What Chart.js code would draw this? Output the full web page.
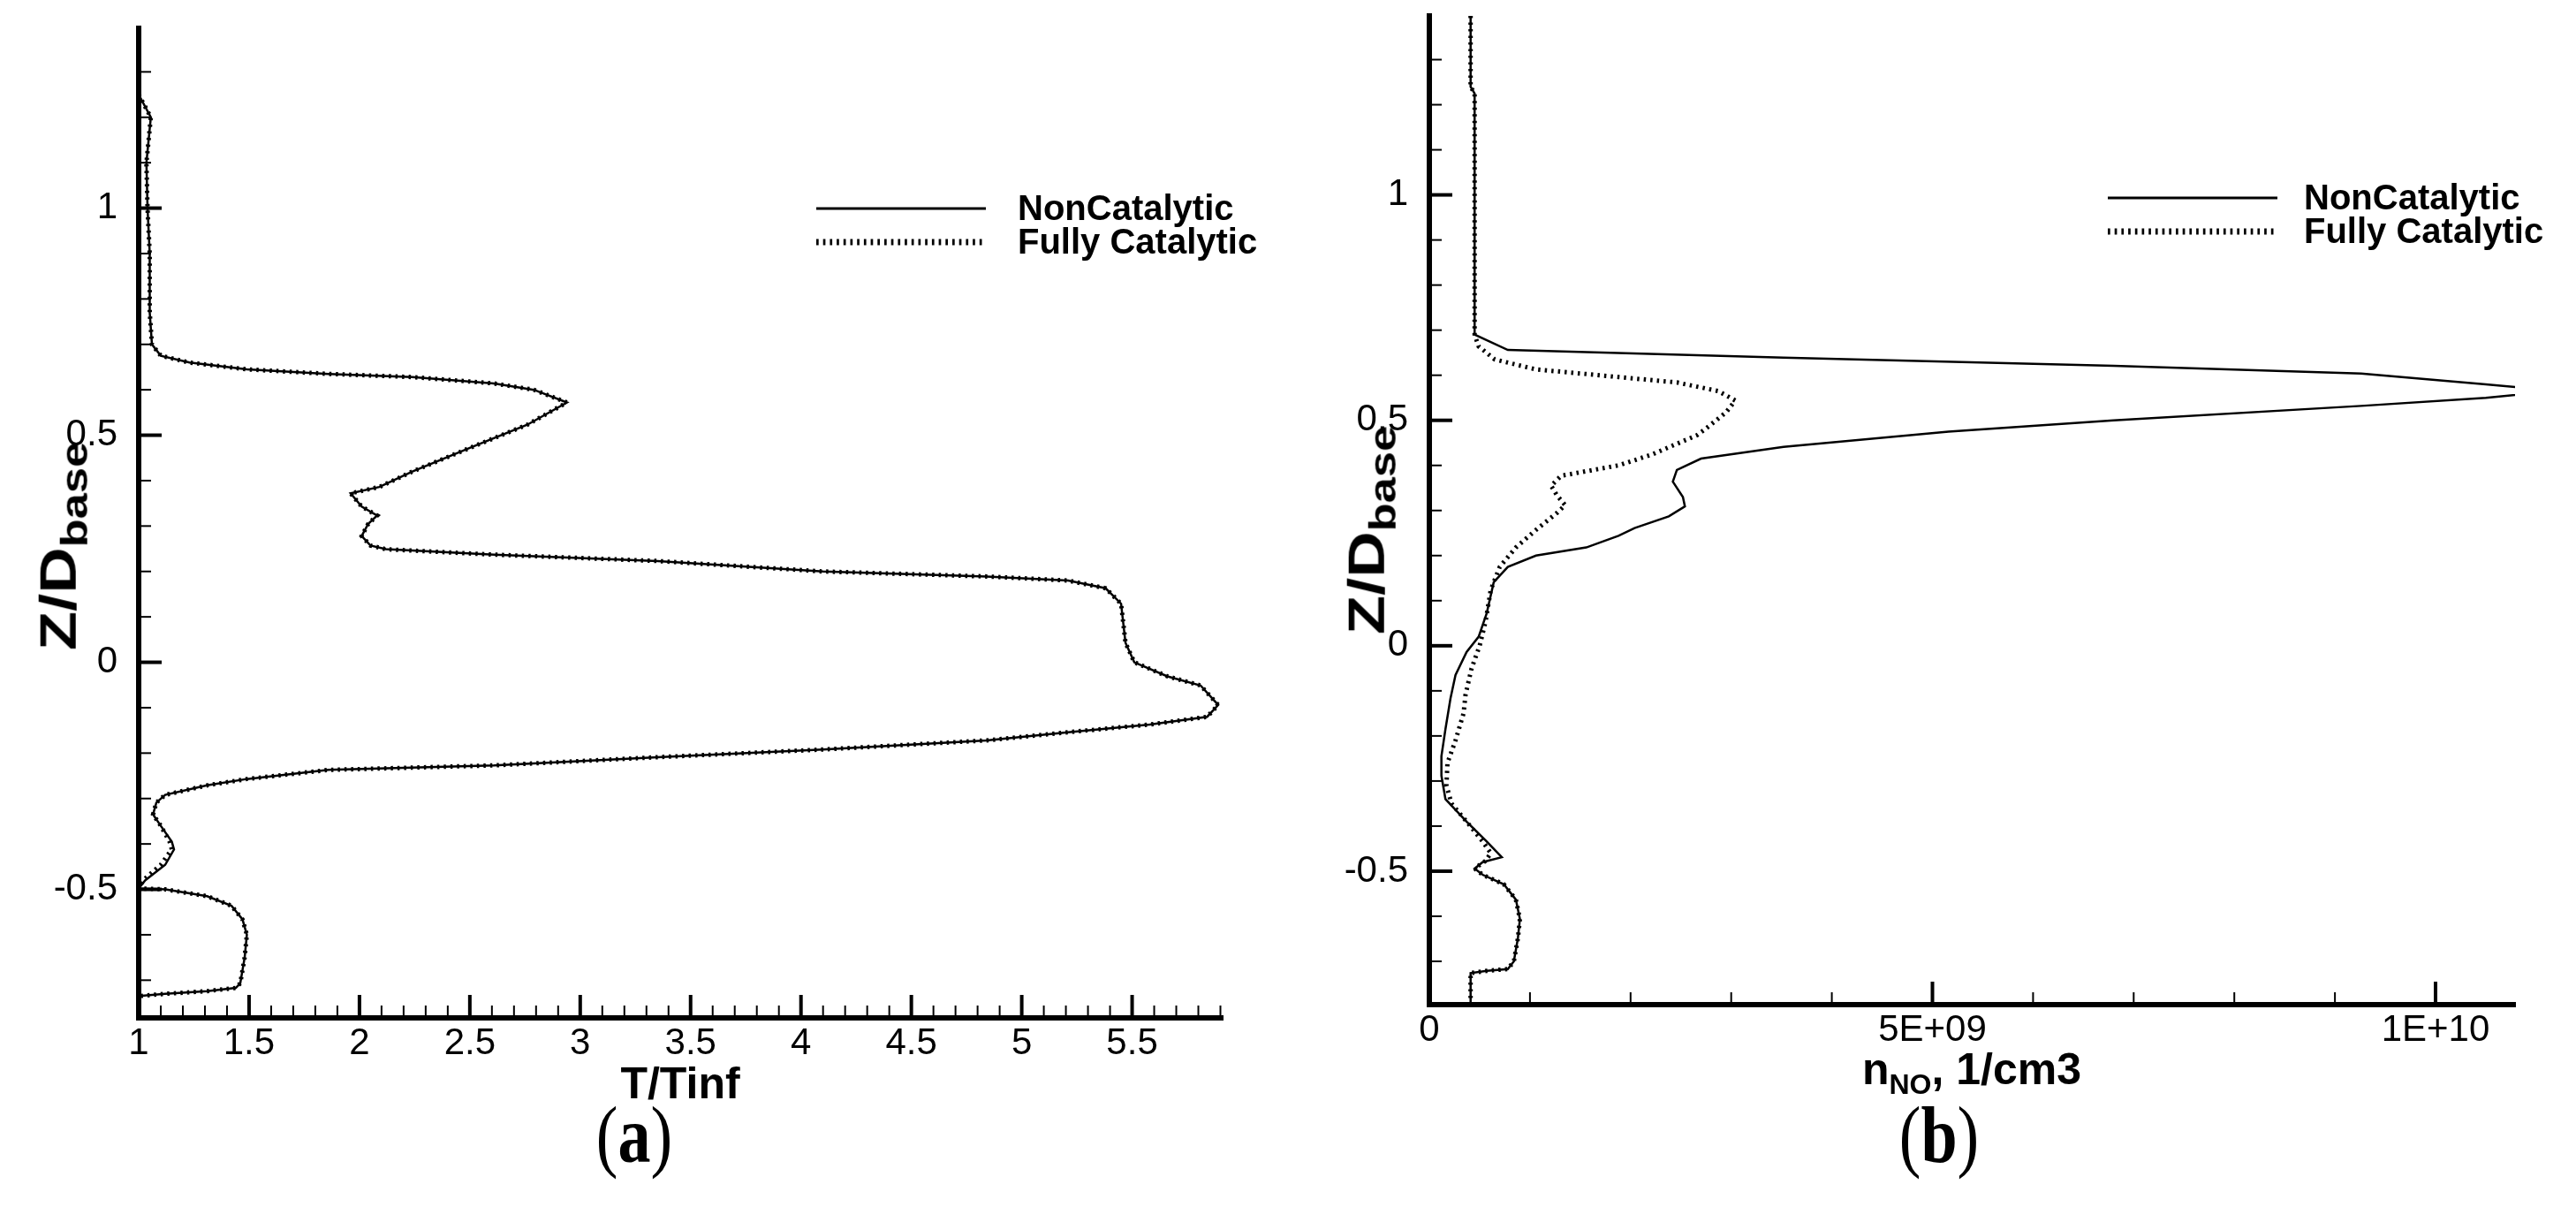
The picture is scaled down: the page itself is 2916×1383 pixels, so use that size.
<!DOCTYPE html>
<html>
<head>
<meta charset="utf-8">
<title>T/Tinf and n_NO profiles</title>
<script src="https://cdn.jsdelivr.net/npm/chart.js@4.4.1/dist/chart.umd.min.js"></script>
<style>
  html, body { margin: 0; padding: 0; background: #fff; }
  body { position: relative; width: 2916px; height: 1383px; overflow: hidden;
         font-family: "Liberation Sans", Arial, Helvetica, sans-serif; color: #000; }
  canvas { position: absolute; top: 0; }
  #chartA { left: 0; }
  #chartB { left: 1458px; }
  .axtitle { position: absolute; white-space: nowrap; font-weight: bold; font-size: 50px;
             line-height: 1; transform: translate(-50%, -50%); }
  .axtitle.rot { font-size: 58px; transform: translate(-50%, -50%) rotate(-90deg) scaleX(1.25); }
  .axtitle sub { font-size: 32px; vertical-align: -0.35em; }
  .axtitle.rot sub { font-size: 42px; vertical-align: -0.3em; }
  .caption { position: absolute; white-space: nowrap; font-family: "Liberation Serif", "Times New Roman", serif;
             font-size: 74px; line-height: 1; transform: translate(-50%, -50%) scaleY(1.22); }
</style>
</head>
<body>
<canvas id="chartA" width="1458" height="1383"></canvas>
<canvas id="chartB" width="1458" height="1383"></canvas>

<div class="axtitle" style="left:770px; top:1226px">T/Tinf</div>
<div class="axtitle rot" style="left:71px; top:618px">Z/D<sub>base</sub></div>
<div class="axtitle" style="left:2232px; top:1214px">n<sub>NO</sub>, 1/cm3</div>
<div class="axtitle rot" style="left:1552px; top:600px">Z/D<sub>base</sub></div>
<div class="caption" style="left:718px; top:1285px">(<b>a</b>)</div>
<div class="caption" style="left:2195px; top:1285px">(<b>b</b>)</div>

<script>
// ---- values ----
const seriesNames = ['NonCatalytic', 'Fully Catalytic'];

// (a) temperature ratio along Z/Dbase
const zA = [1.25, 1.20, 1.10, 1.00, 0.90, 0.77, 0.70, 0.675, 0.66, 0.645, 0.635, 0.628, 0.614, 0.60,
  0.572, 0.523, 0.472, 0.42, 0.386, 0.372, 0.343, 0.323, 0.305, 0.278, 0.257, 0.249, 0.237, 0.223,
  0.20, 0.189, 0.18, 0.163, 0.129, 0.086, 0.043, 0.0, -0.031, -0.051, -0.094, -0.12, -0.137, -0.154,
  -0.172, -0.192, -0.209, -0.227, -0.237, -0.257, -0.271, -0.292, -0.309, -0.335, -0.36, -0.395,
  -0.412, -0.446, -0.48, -0.498, -0.50, -0.515, -0.536, -0.566, -0.60, -0.65, -0.707, -0.717,
  -0.724, -0.73, -0.735];
const tNonCatalytic = [1.0, 1.055, 1.035, 1.04, 1.05, 1.05, 1.06, 1.10, 1.23, 1.49, 1.86, 2.24, 2.61, 2.79,
  2.94, 2.76, 2.50, 2.24, 2.09, 1.96, 2.01, 2.08, 2.04, 2.01, 2.05, 2.12, 2.61, 3.35,
  4.10, 4.84, 5.21, 5.38, 5.45, 5.46, 5.47, 5.51, 5.66, 5.81, 5.89, 5.84, 5.58, 5.21,
  4.84, 4.10, 3.35, 2.61, 1.86, 1.49, 1.31, 1.12, 1.08, 1.065, 1.10, 1.15,
  1.16, 1.12, 1.03, 1.0, 1.12, 1.31, 1.42, 1.47, 1.49, 1.48, 1.46, 1.44,
  1.31, 1.12, 1.0];
const tFullyCatalytic = [1.0, 1.055, 1.035, 1.04, 1.05, 1.05, 1.06, 1.10, 1.23, 1.49, 1.86, 2.24, 2.61, 2.79,
  2.94, 2.76, 2.50, 2.24, 2.09, 1.96, 2.01, 2.08, 2.04, 2.01, 2.05, 2.12, 2.61, 3.35,
  4.10, 4.84, 5.21, 5.38, 5.45, 5.46, 5.47, 5.51, 5.66, 5.81, 5.89, 5.84, 5.58, 5.21,
  4.84, 4.10, 3.35, 2.61, 1.86, 1.49, 1.31, 1.12, 1.08, 1.065, 1.10, 1.14,
  1.15, 1.10, 1.02, 1.0, 1.12, 1.31, 1.42, 1.47, 1.49, 1.48, 1.46, 1.44,
  1.31, 1.12, 1.0];

// (b) NO number density, 1/cm3
const zBNonCat = [1.397, 1.24, 1.225, 0.69, 0.656, 0.639, 0.621, 0.604, 0.58, 0.565, 0.55, 0.532,
  0.50, 0.475, 0.441, 0.415, 0.39, 0.364, 0.33, 0.309, 0.287, 0.261, 0.244, 0.218, 0.20, 0.175,
  0.141, 0.072, 0.02, -0.014, -0.065, -0.117, -0.185, -0.245, -0.288, -0.34, -0.39, -0.434,
  -0.469, -0.48, -0.494, -0.508, -0.529, -0.563, -0.606, -0.649, -0.70, -0.717, -0.721, -0.726, -0.796];
const nNonCatalytic = [0.41e9, 0.41e9, 0.45e9, 0.45e9, 0.78e9, 3.52e9, 6.80e9, 9.26e9, 10.5e9, 11.2e9, 10.5e9, 9.26e9,
  6.80e9, 5.16e9, 3.52e9, 2.70e9, 2.46e9, 2.42e9, 2.52e9, 2.54e9, 2.38e9, 2.04e9, 1.88e9, 1.56e9, 1.06e9, 0.78e9,
  0.64e9, 0.57e9, 0.49e9, 0.37e9, 0.26e9, 0.21e9, 0.16e9, 0.12e9, 0.12e9, 0.16e9, 0.37e9, 0.57e9,
  0.72e9, 0.53e9, 0.45e9, 0.53e9, 0.74e9, 0.86e9, 0.90e9, 0.88e9, 0.84e9, 0.78e9, 0.57e9, 0.41e9, 0.41e9];
const zBFullyCat = [1.397, 1.24, 1.225, 0.69, 0.664, 0.635, 0.613, 0.596, 0.584, 0.565, 0.544, 0.518,
  0.48, 0.467, 0.424, 0.40, 0.377, 0.355, 0.333, 0.312, 0.295, 0.257, 0.218, 0.175, 0.124, 0.055,
  0.0, -0.05, -0.108, -0.15, -0.21, -0.26, -0.31, -0.35, -0.39, -0.434, -0.46, -0.477, -0.494,
  -0.508, -0.529, -0.563, -0.606, -0.649, -0.70, -0.717, -0.721, -0.726, -0.796];
const nFullyCatalytic = [0.41e9, 0.41e9, 0.45e9, 0.45e9, 0.49e9, 0.65e9, 1.06e9, 1.88e9, 2.46e9, 2.87e9, 3.04e9, 2.95e9,
  2.74e9, 2.66e9, 2.21e9, 1.88e9, 1.31e9, 1.21e9, 1.27e9, 1.35e9, 1.27e9, 1.06e9, 0.86e9, 0.70e9, 0.61e9, 0.56e9,
  0.50e9, 0.42e9, 0.36e9, 0.34e9, 0.26e9, 0.18e9, 0.17e9, 0.22e9, 0.37e9, 0.53e9, 0.61e9, 0.56e9, 0.45e9,
  0.53e9, 0.74e9, 0.86e9, 0.90e9, 0.88e9, 0.84e9, 0.78e9, 0.57e9, 0.41e9, 0.41e9];

// labelled ticks
const zTickLabels = ['-0.5', '0', '0.5', '1'];
const tTickLabels = ['1', '1.5', '2', '2.5', '3', '3.5', '4', '4.5', '5', '5.5'];
const nTickLabels = ['0', '5E+09', '1E+10'];
// unlabelled minor ticks
const zMinor = [-0.7, -0.6, -0.4, -0.3, -0.2, -0.1, 0.1, 0.2, 0.3, 0.4, 0.6, 0.7, 0.8, 0.9, 1.1, 1.2, 1.3];
const tMinor = [1.1, 1.2, 1.3, 1.4, 1.6, 1.7, 1.8, 1.9, 2.1, 2.2, 2.3, 2.4, 2.6, 2.7, 2.8, 2.9,
  3.1, 3.2, 3.3, 3.4, 3.6, 3.7, 3.8, 3.9, 4.1, 4.2, 4.3, 4.4, 4.6, 4.7, 4.8, 4.9,
  5.1, 5.2, 5.3, 5.4, 5.6, 5.7, 5.8, 5.9];
const nMinor = [1e9, 2e9, 3e9, 4e9, 6e9, 7e9, 8e9, 9e9];

// ---- helpers ----
function tickText(labels) {
  return v => {
    const hit = labels.find(l => Math.abs(Number(l) - v) <= 1e-6 * Math.max(1, Math.abs(v)));
    return hit === undefined ? '' : hit;
  };
}
function pts(xs, ys) { return xs.map((x, i) => ({ x: x, y: ys[i] })); }

const tickFont = { family: '"Liberation Sans", Arial, sans-serif', size: 42 };

// tecplot-like ticks pointing into the plot
const inwardTicks = {
  id: 'inwardTicks',
  afterDraw(chart, args, opts) {
    const { ctx, chartArea } = chart;
    ctx.save();
    ctx.strokeStyle = '#000';
    const mark = (id, v, major) => {
      const scale = chart.scales[id];
      const p = scale.getPixelForValue(v);
      const len = major ? 26 : 14;
      ctx.lineWidth = major ? 4 : 2;
      ctx.beginPath();
      if (id === 'x') { ctx.moveTo(p, chartArea.bottom); ctx.lineTo(p, chartArea.bottom - len); }
      else { ctx.moveTo(chartArea.left, p); ctx.lineTo(chartArea.left + len, p); }
      ctx.stroke();
    };
    ['x', 'y'].forEach(id => {
      chart.scales[id].ticks.forEach(t => mark(id, t.value, true));
      (opts[id] || []).forEach(v => mark(id, v, false));
    });
    ctx.restore();
  }
};

// legend drawn at a fixed spot inside the plot
const lineLegend = {
  id: 'lineLegend',
  afterDraw(chart, args, opts) {
    const ctx = chart.ctx;
    ctx.save();
    ctx.font = 'bold 40px "Liberation Sans", Arial, sans-serif';
    ctx.fillStyle = '#000';
    ctx.textBaseline = 'middle';
    chart.data.datasets.forEach((ds, i) => {
      const y = opts.y + i * opts.gap;
      ctx.strokeStyle = ds.borderColor;
      ctx.lineWidth = i === 0 ? 3 : 7;
      ctx.setLineDash(i === 0 ? [] : [2.7, 5]);
      ctx.beginPath();
      ctx.moveTo(opts.x, y);
      ctx.lineTo(opts.x + opts.len, y);
      ctx.stroke();
      ctx.setLineDash([]);
      ctx.fillText(ds.label, opts.textX, y + 2);
    });
    ctx.restore();
  }
};

function makePanel(canvasId, box, xRange, xLabels, xMinor, yRange, series, legendPos) {
  const w = 1458, h = 1383;
  return new Chart(document.getElementById(canvasId), {
    type: 'scatter',
    data: {
      datasets: [
        { label: seriesNames[0], data: series[0], showLine: true, borderColor: '#000',
          borderWidth: 2.5, pointRadius: 0, tension: 0 },
        { label: seriesNames[1], data: series[1], showLine: true, borderColor: '#000',
          borderWidth: 5, borderDash: [2.5, 5], borderCapStyle: 'butt', pointRadius: 0, tension: 0 }
      ]
    },
    options: {
      responsive: false,
      animation: false,
      devicePixelRatio: 1,
      layout: { padding: { left: 0, top: box.top, right: w - box.right, bottom: 0 } },
      plugins: {
        legend: { display: false }, tooltip: { enabled: false },
        lineLegend: legendPos,
        inwardTicks: { x: xMinor, y: zMinor }
      },
      scales: {
        x: {
          type: 'linear', min: xRange[0], max: xRange[1],
          afterBuildTicks: s => { s.ticks = xLabels.map(l => ({ value: Number(l) })); },
          afterFit: s => { s.height = h - box.bottom; s.paddingLeft = 0; s.paddingRight = 0; },
          ticks: { callback: tickText(xLabels), font: tickFont, color: '#000', padding: 4,
                   autoSkip: false, maxRotation: 0 },
          grid: { display: false, drawTicks: false },
          border: { display: true, width: 6, color: '#000' }
        },
        y: {
          type: 'linear', min: yRange[0], max: yRange[1],
          afterBuildTicks: s => { s.ticks = zTickLabels.map(l => ({ value: Number(l) })); },
          afterFit: s => { s.width = box.left; s.paddingTop = 0; s.paddingBottom = 0; },
          ticks: { callback: tickText(zTickLabels), font: tickFont, color: '#000', padding: 24,
                   autoSkip: false },
          grid: { display: false, drawTicks: false },
          border: { display: true, width: 6, color: '#000' }
        }
      }
    },
    plugins: [inwardTicks, lineLegend]
  });
}

makePanel('chartA', { left: 157, top: 32, right: 1384, bottom: 1152 }, [1, 5.91], tTickLabels, tMinor,
  [-0.783, 1.396], [pts(tNonCatalytic, zA), pts(tFullyCatalytic, zA)],
  { x: 924, len: 192, textX: 1152, y: 236, gap: 38 });

makePanel('chartB', { left: 160, top: 18, right: 1389, bottom: 1137 }, [0, 1.079e10], nTickLabels, nMinor,
  [-0.796, 1.397], [pts(nNonCatalytic, zBNonCat), pts(nFullyCatalytic, zBFullyCat)],
  { x: 928, len: 192, textX: 1150, y: 224, gap: 38 });
</script>
</body>
</html>
